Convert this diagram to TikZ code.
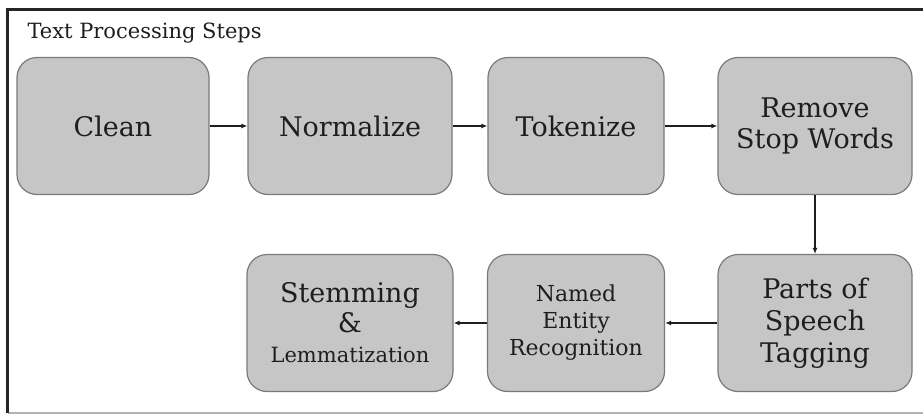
\documentclass[tikz,border=0pt]{standalone}
\usepackage{fontspec}
\setmainfont{DejaVu Serif}
\usetikzlibrary{arrows.meta}
\definecolor{boxfill}{HTML}{C6C6C6}
\definecolor{boxline}{HTML}{7A7A7A}
\definecolor{inktext}{HTML}{1E1E1E}
\begin{document}
\begin{tikzpicture}[x=1pt,y=-1pt,
    stepbox/.style={draw=boxline, fill=boxfill, rounded corners=20pt, line width=1.2pt,
      align=center, inner sep=0pt, minimum height=137pt, text=inktext,
      font=\fontsize{27}{31}\selectfont},
    smalltext/.style={font=\fontsize{22}{27}\selectfont},
    flow/.style={-{Latex[length=6pt,width=5pt]}, line width=1.3pt, draw=inktext}]
    \useasboundingbox (0,0) rectangle (923,415);
    % frame
    \fill[white] (0,0) rectangle (923,415);
    \draw[line width=1.5pt, draw=black!30] (8,413) -- (930,413);
    \draw[line width=3pt, draw=black!85] (7,413) -- (7,9) -- (930,9);
    \node[anchor=west, text=inktext, font=\fontsize{21}{24}\selectfont] (title) at (24,33) {Text Processing Steps};
    % top row
    \node[stepbox, minimum width=192pt] (clean) at (113,126) {Clean};
    \node[stepbox, minimum width=204pt] (normalize) at (350,126) {Normalize};
    \node[stepbox, minimum width=176pt] (tokenize) at (576,126) {Tokenize};
    \node[stepbox, minimum width=194pt] (stopwords) at (815,126) {Remove\\Stop Words};
    % bottom row
    \node[stepbox, minimum width=194pt, font=\fontsize{27}{32}\selectfont] (pos) at (815,323) {Parts of\\Speech\\Tagging};
    \node[stepbox, minimum width=177pt, smalltext] (ner) at (576,323) {Named\\Entity\\Recognition};
    \node[stepbox, minimum width=206pt, font=\fontsize{27}{30}\selectfont] (stem) at (350,323) {Stemming\\\&\\{\fontsize{21}{24}\selectfont Lemmatization}};
    % connectors
    \draw[flow] (clean) -- (normalize);
    \draw[flow] (normalize) -- (tokenize);
    \draw[flow] (tokenize) -- (stopwords);
    \draw[flow] (stopwords) -- (pos);
    \draw[flow] (pos) -- (ner);
    \draw[flow] (ner) -- (stem);
\end{tikzpicture}
\end{document}
